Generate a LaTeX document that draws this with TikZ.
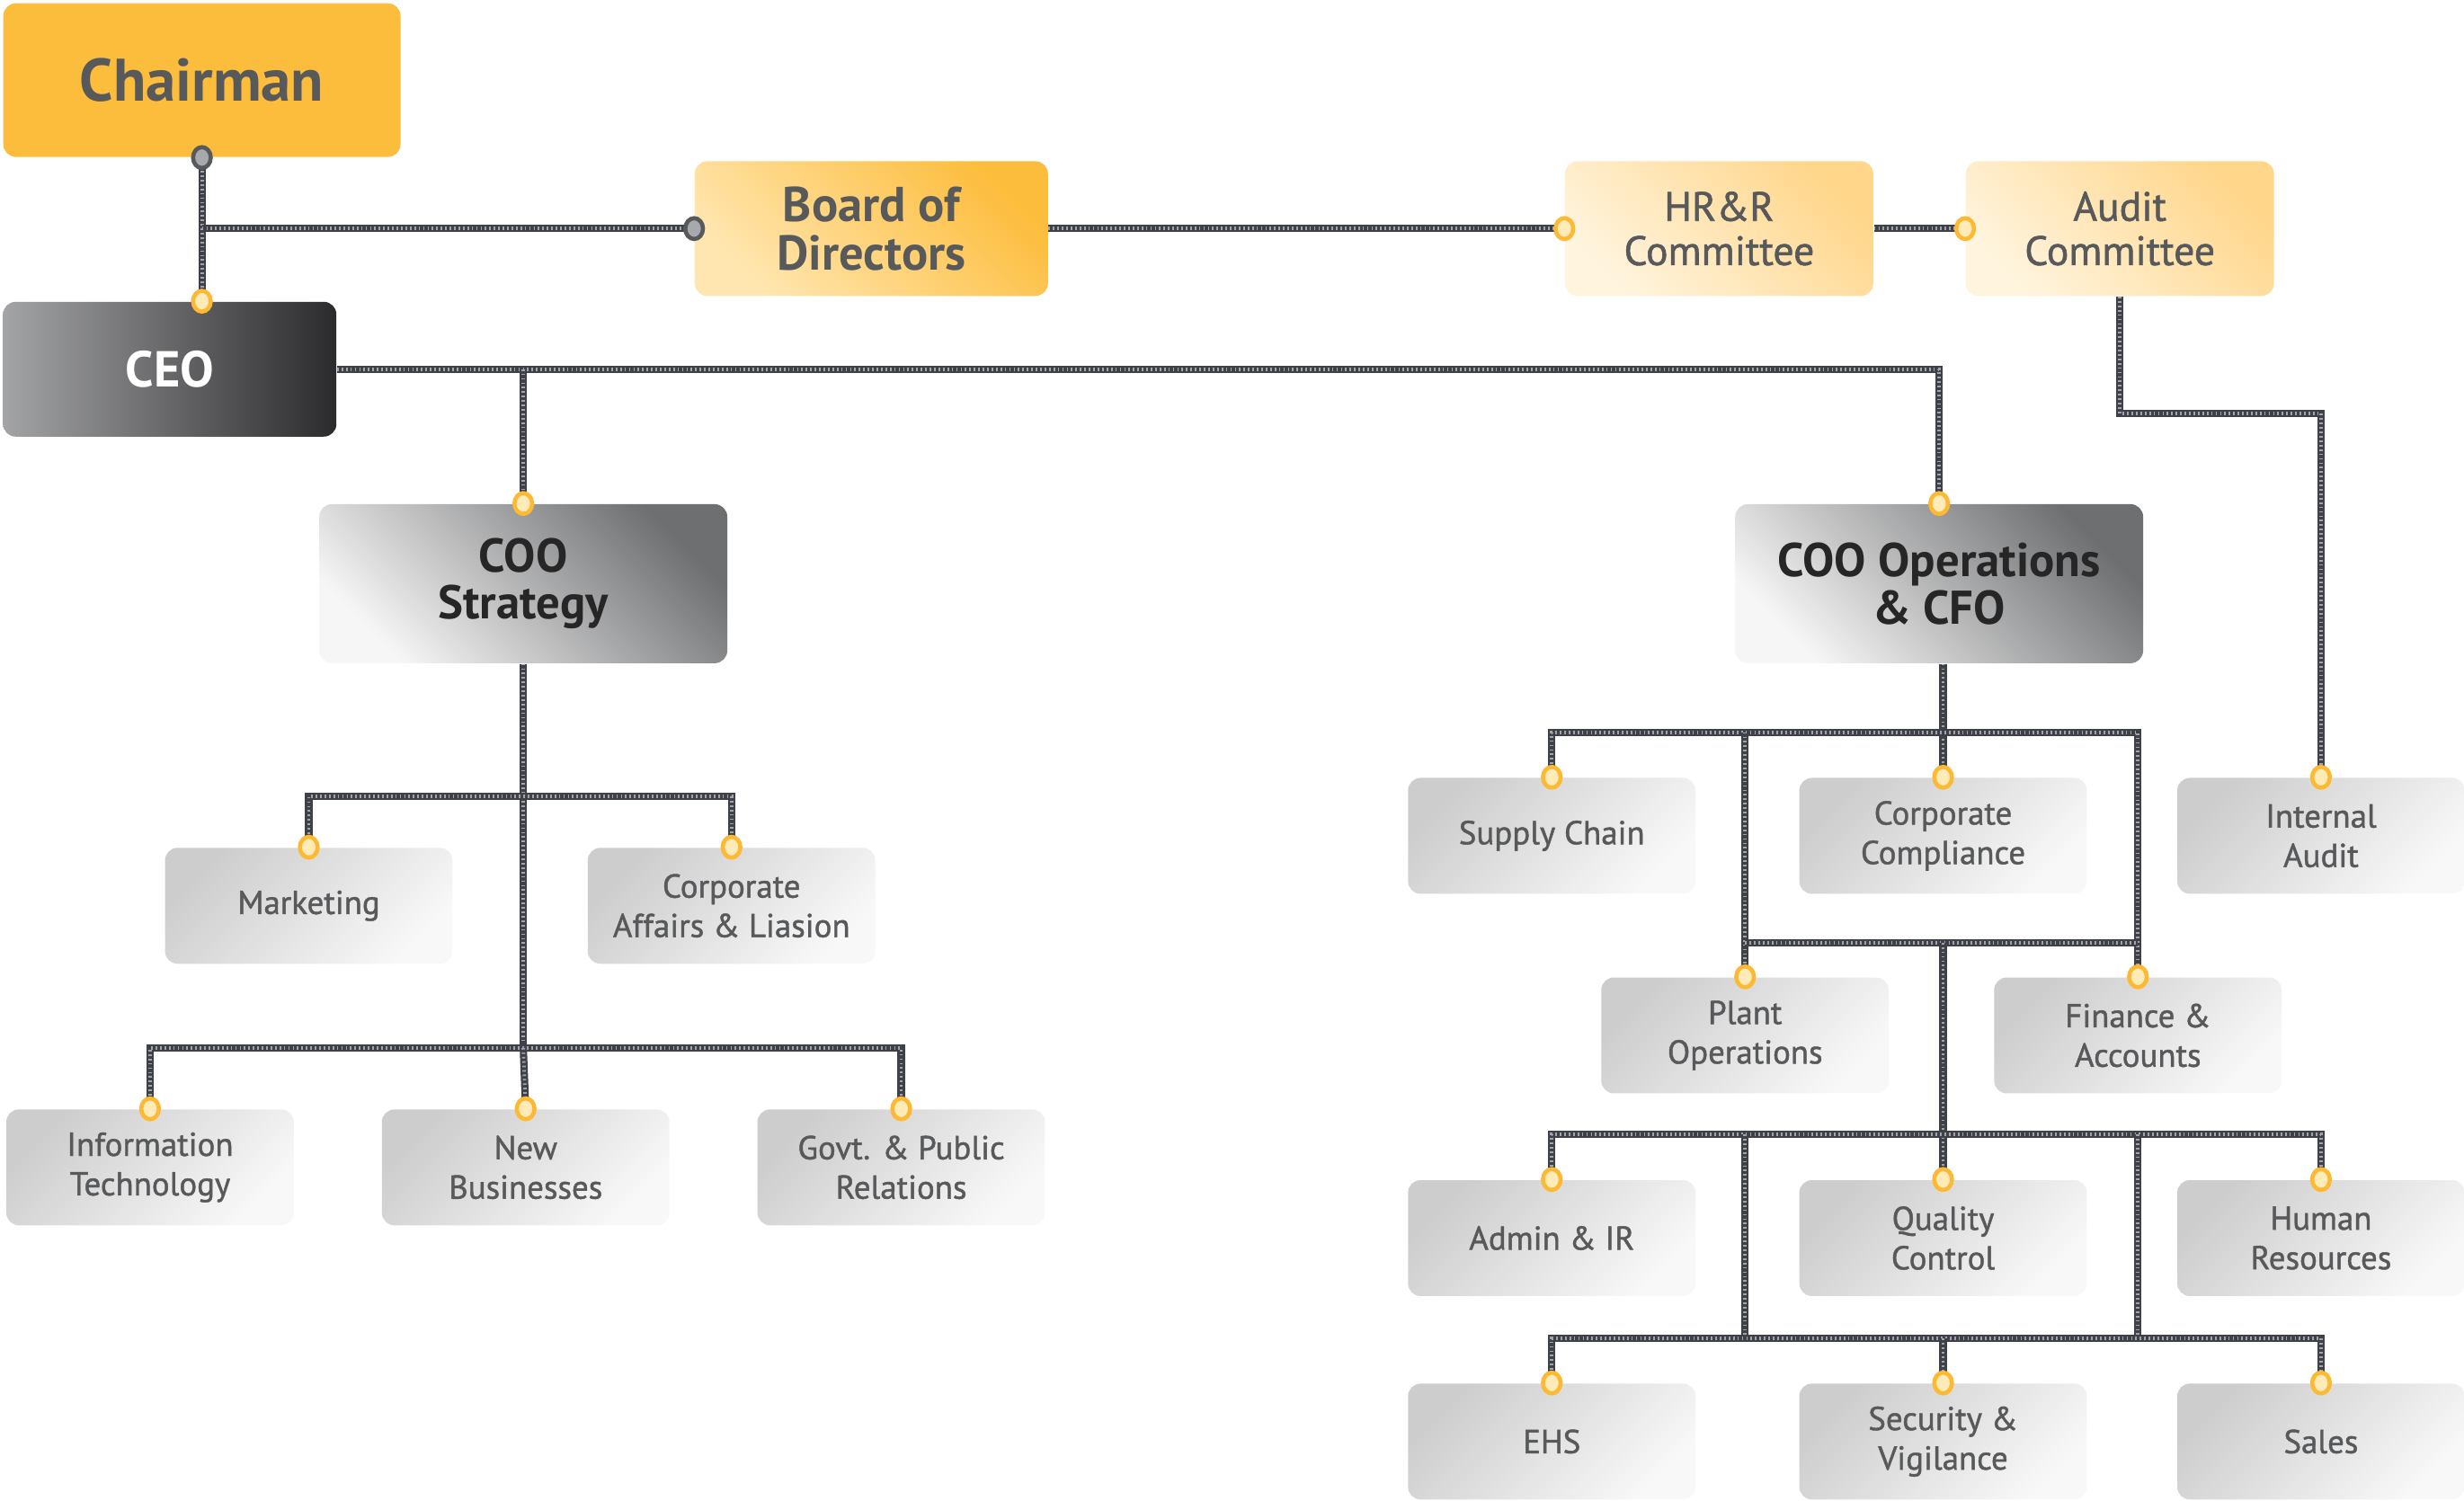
\documentclass[tikz,border=0pt]{standalone}
\usepackage{fontspec}
\setmainfont{PT Sans}
\newfontfamily\unitfont{PT Sans}[FakeBold=1.2]
\usetikzlibrary{positioning}

\definecolor{chairgold}{HTML}{FDBD3C}
\definecolor{boardlight}{HTML}{FFE6B0}
\definecolor{commlight}{HTML}{FFF4DE}
\definecolor{commdark}{HTML}{FFD68A}
\definecolor{ceolight}{HTML}{A3A4A6}
\definecolor{ceodark}{HTML}{2B2A2C}
\definecolor{coolight}{HTML}{F6F6F6}
\definecolor{coodark}{HTML}{6E6F71}
\definecolor{unitlight}{HTML}{F8F8F8}
\definecolor{unitdark}{HTML}{CDCDCD}
\definecolor{textgray}{HTML}{58595B}
\definecolor{ropedark}{HTML}{3F4148}
\definecolor{ropelight}{HTML}{A2A4AA}
\definecolor{dotyellow}{HTML}{FDB933}
\definecolor{dotpale}{HTML}{FFEBB8}
\definecolor{dotgray}{HTML}{58595B}
\definecolor{dotgraylight}{HTML}{A7A9AC}

\tikzset{
  box/.style={rectangle, rounded corners=4pt, align=center, text=textgray, inner sep=2pt},
  unit/.style={box, minimum width=3.2cm, minimum height=1.29cm,
    top color=unitdark, bottom color=unitlight, shading angle=45,
    font=\unitfont\fontsize{10.5}{12.5}\selectfont},
  coo/.style={box, minimum width=4.54cm, minimum height=1.77cm, text=black!85,
    top color=coodark, bottom color=coolight, shading angle=-45,
    font=\bfseries\fontsize{15}{15}\selectfont},
  committee/.style={box, minimum width=3.43cm, minimum height=1.5cm,
    top color=commdark, bottom color=commlight, shading angle=-45,
    font=\unitfont\fontsize{13}{14}\selectfont},
  rope/.style={draw=ropedark, line width=2.3pt,
    postaction={draw=ropelight, line width=1.1pt, dash pattern=on 0.5pt off 0.9pt}},
  ydot/.style={draw=dotyellow, fill=dotpale, line width=1.3pt},
  gdot/.style={draw=dotgray, fill=dotgraylight, line width=1.3pt}
}

\begin{document}
\begin{tikzpicture}[x=0.01748cm, y=-0.01748cm]
    \useasboundingbox (0,0) rectangle (1568,955);

    % Top level
    \node[box, fill=chairgold, minimum width=4.42cm, minimum height=1.71cm,
      font=\bfseries\fontsize{19}{19}\selectfont] (chair) at (128.5,51) {Chairman};
    \node[box, top color=chairgold, bottom color=boardlight, shading angle=-45,
      minimum width=3.93cm, minimum height=1.5cm,
      font=\bfseries\fontsize{15.5}{15.5}\selectfont] (board) at (554.5,145.5) {Board of\\Directors};
    \node[committee] (hrr) at (1094,145.5) {HR\&R\\Committee};
    \node[committee] (audit) at (1349,145.5) {Audit\\Committee};
    \node[box, left color=ceolight, right color=ceodark, text=white,
      minimum width=3.71cm, minimum height=1.5cm,
      font=\bfseries\fontsize{16}{16}\selectfont] (ceo) at (108,235) {CEO};

    % COOs
    \node[coo] (coostr) at (333,371.5) {COO\\Strategy};
    \node[coo] (cooops) at (1234,371.5) {COO Operations\\\& CFO};

    % Strategy units
    \node[unit] (mkt) at (196.5,576.5) {Marketing};
    \node[unit] (caff) at (465.5,576.5) {Corporate\\Affairs \& Liasion};
    \node[unit] (it) at (95.5,743) {Information\\Technology};
    \node[unit] (newb) at (334.5,743) {New\\Businesses};
    \node[unit] (govt) at (573.5,743) {Govt. \& Public\\Relations};

    % Operations units
    \node[unit] (supply) at (987.5,532) {Supply Chain};
    \node[unit] (comp) at (1236.5,532) {Corporate\\Compliance};
    \node[unit] (iaudit) at (1477,532) {Internal\\Audit};
    \node[unit] (plant) at (1110.5,659) {Plant\\Operations};
    \node[unit] (fin) at (1360.5,659) {Finance \&\\Accounts};
    \node[unit] (admin) at (987.5,788) {Admin \& IR};
    \node[unit] (qc) at (1236.5,788) {Quality\\Control};
    \node[unit] (hr) at (1477,788) {Human\\Resources};
    \node[unit] (ehs) at (987.5,917.5) {EHS};
    \node[unit] (sec) at (1236.5,917.5) {Security \&\\Vigilance};
    \node[unit] (sales) at (1477,917.5) {Sales};

    % Bus levels
    \coordinate (auditbus) at (0,263);
    \coordinate (sbus1) at (0,507);
    \coordinate (sbus2) at (0,667);
    \coordinate (obus1) at (0,466);
    \coordinate (obus2) at (0,600);
    \coordinate (obus3) at (0,722);
    \coordinate (obus4) at (0,852);
    \coordinate (ceotop) at (chair.south |- ceo.north);

    % Board connectors
    \draw[rope] (chair.south) -- (ceotop);
    \draw[rope] (chair.south |- board.west) -- (board.west);
    \draw[rope] (board.east) -- (hrr.west);
    \draw[rope] (hrr.east) -- (audit.west);
    \draw[rope] (audit.south) |- (iaudit.north |- auditbus) -- (iaudit.north);

    % CEO to COOs
    \draw[rope] (ceo.east) -| (cooops.north);
    \draw[rope] (ceo.east -| coostr.north) -- (coostr.north);

    % Strategy tree
    \draw[rope] (coostr.south) -- (coostr.south |- sbus2);
    \draw[rope] (mkt.north) |- (caff.north |- sbus1) -- (caff.north);
    \draw[rope] (it.north) |- (govt.north |- sbus2) -- (govt.north);
    \draw[rope] (coostr.south |- sbus2) -- (newb.north);

    % Operations tree
    \draw[rope] (comp.north |- cooops.south) -- (comp.north);
    \draw[rope] (supply.north) |- (fin.north |- obus1) -- (fin.north);
    \draw[rope] (plant.north |- obus1) -- (plant.north);
    \draw[rope] (plant.north |- obus2) -- (fin.north |- obus2);
    \draw[rope] (comp.north |- obus2) -- (qc.north);
    \draw[rope] (admin.north) |- (hr.north |- obus3) -- (hr.north);
    \draw[rope] (plant.north |- obus3) -- (plant.north |- obus4);
    \draw[rope] (fin.north |- obus3) -- (fin.north |- obus4);
    \draw[rope] (ehs.north) |- (sales.north |- obus4) -- (sales.north);
    \draw[rope] (sec.north |- obus4) -- (sec.north);

    % Joints
    \foreach \n in {coostr,cooops,mkt,caff,it,newb,govt,supply,comp,iaudit,
                    plant,fin,admin,qc,hr,ehs,sec,sales}
      \filldraw[ydot] (\n.north) ellipse (2.8pt and 3.3pt);
    \filldraw[ydot] (ceotop) ellipse (2.8pt and 3.3pt);
    \filldraw[ydot] (hrr.west) ellipse (2.8pt and 3.3pt);
    \filldraw[ydot] (audit.west) ellipse (2.8pt and 3.3pt);
    \filldraw[gdot] (chair.south) ellipse (2.8pt and 3.3pt);
    \filldraw[gdot] (board.west) ellipse (2.8pt and 3.3pt);
\end{tikzpicture}
\end{document}
